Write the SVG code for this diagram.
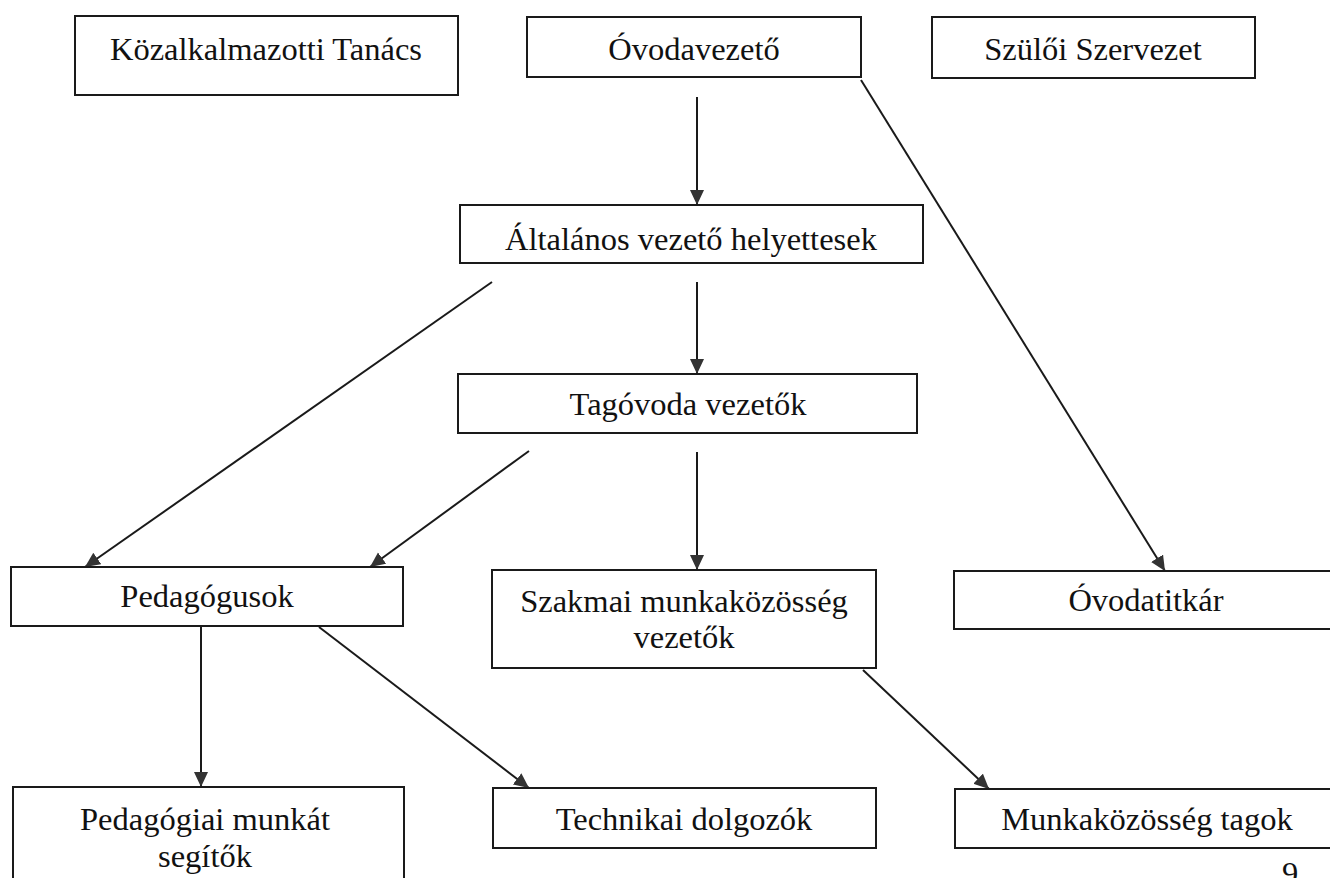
<svg xmlns="http://www.w3.org/2000/svg" width="1330" height="878" viewBox="0 0 1330 878">
<defs>
<style>
.box{fill:#fff;stroke:#1a1a1a;stroke-width:2}
.t{font-family:"Liberation Serif","Times New Roman",serif;font-size:32.5px;fill:#111;text-anchor:middle}
.c{stroke:#1a1a1a;stroke-width:2;fill:none;marker-end:url(#ah)}
</style>
<marker id="ah" markerUnits="userSpaceOnUse" markerWidth="16" markerHeight="15" refX="15" refY="7" orient="auto">
<path d="M0,0 L15,7 L0,14 Z" fill="#333"/>
</marker>
</defs>
<rect width="1330" height="878" fill="#fff"/>
<g id="connectors">
<line class="c" x1="697" y1="97" x2="697" y2="205"/>
<line class="c" x1="861" y1="80" x2="1165" y2="571"/>
<line class="c" x1="492" y1="282" x2="85" y2="567"/>
<line class="c" x1="697" y1="282" x2="697" y2="374"/>
<line class="c" x1="529" y1="451" x2="370" y2="567"/>
<line class="c" x1="697" y1="452" x2="697" y2="570"/>
<line class="c" x1="201" y1="626" x2="201" y2="787"/>
<line class="c" x1="319" y1="627" x2="529" y2="788"/>
<line class="c" x1="863" y1="670" x2="989" y2="789"/>
</g>
<g id="n-kozalkalmazotti">
<rect class="box" x="75" y="16" width="383" height="79"/>
<text class="t" x="266" y="60">Közalkalmazotti Tanács</text>
</g>
<g id="n-ovodavezeto">
<rect class="box" x="527" y="17" width="334" height="60"/>
<text class="t" x="694" y="60">Óvodavezető</text>
</g>
<g id="n-szuloi">
<rect class="box" x="932" y="17" width="323" height="61"/>
<text class="t" x="1093" y="60">Szülői Szervezet</text>
</g>
<g id="n-altalanos">
<rect class="box" x="460" y="205" width="463" height="58"/>
<text class="t" x="691" y="250">Általános vezető helyettesek</text>
</g>
<g id="n-tagovoda">
<rect class="box" x="458" y="374" width="459" height="59"/>
<text class="t" x="688" y="415">Tagóvoda vezetők</text>
</g>
<g id="n-pedagogusok">
<rect class="box" x="11" y="567" width="392" height="59"/>
<text class="t" x="207" y="607">Pedagógusok</text>
</g>
<g id="n-szakmai">
<rect class="box" x="492" y="570" width="384" height="98"/>
<text class="t" x="684" y="612">Szakmai munkaközösség</text>
<text class="t" x="684" y="648">vezetők</text>
</g>
<g id="n-ovodatitkar">
<rect class="box" x="954" y="571" width="390" height="58"/>
<text class="t" x="1146" y="611">Óvodatitkár</text>
</g>
<g id="n-pedsegito">
<rect class="box" x="13" y="787" width="391" height="100"/>
<text class="t" x="205" y="830">Pedagógiai munkát</text>
<text class="t" x="205" y="867">segítők</text>
</g>
<g id="n-technikai">
<rect class="box" x="493" y="788" width="383" height="60"/>
<text class="t" x="684" y="830">Technikai dolgozók</text>
</g>
<g id="n-munkakozosseg">
<rect class="box" x="955" y="789" width="390" height="59"/>
<text class="t" x="1147" y="830">Munkaközösség tagok</text>
</g>
<text class="t" x="1290" y="884">9</text>
</svg>
